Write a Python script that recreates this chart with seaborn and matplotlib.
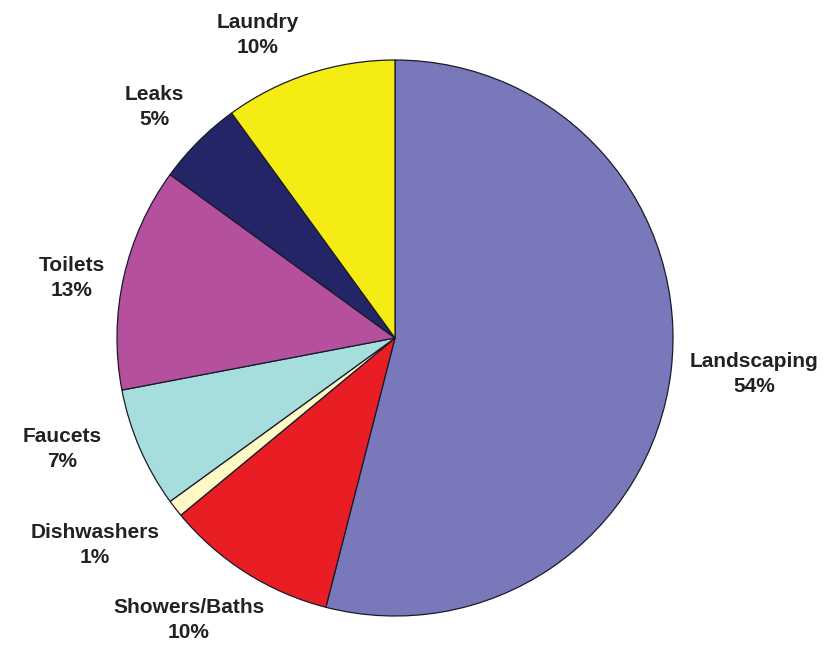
import matplotlib
matplotlib.use("Agg")
import matplotlib.pyplot as plt
import seaborn as sns

# household water use shares, clockwise from 12 o'clock
categories = ["Landscaping", "Showers/Baths", "Dishwashers", "Faucets", "Toilets", "Leaks", "Laundry"]
shares = [54, 10, 1, 7, 13, 5, 10]
colors = ["#7878BA", "#E81E24", "#FFF9C6", "#A6DEDE", "#B4509E", "#232566", "#F5EC14"]

# label block centres in pixel space (x, y from top)
label_pos = [(754, 374), (189, 620), (95, 545), (62, 449), (72, 278), (154, 107), (258, 35)]

W, H = 825, 646
CX, CY, R = 395, 338, 278

sns.set_theme(style="white")
plt.rcParams["font.family"] = ["Liberation Sans", "DejaVu Sans"]

fig = plt.figure(figsize=(W / 100, H / 100), dpi=100)
ax = fig.add_axes([0, 0, 1, 1])

ax.pie(shares, colors=colors, startangle=90, counterclock=False,
       center=(CX, H - CY), radius=R, frame=True,
       wedgeprops=dict(edgecolor="#1a1a2a", linewidth=0.9))
ax.set_xlim(0, W)
ax.set_ylim(0, H)
ax.set_aspect("equal")
ax.axis("off")

for name, val, (x, y) in zip(categories, shares, label_pos):
    ax.text(x, H - y, f"{name}\n{val}%", ha="center", va="center",
            fontsize=15, fontweight="bold", color="#222222", linespacing=1.35)

fig.savefig("out.png", dpi=100, facecolor="white")
